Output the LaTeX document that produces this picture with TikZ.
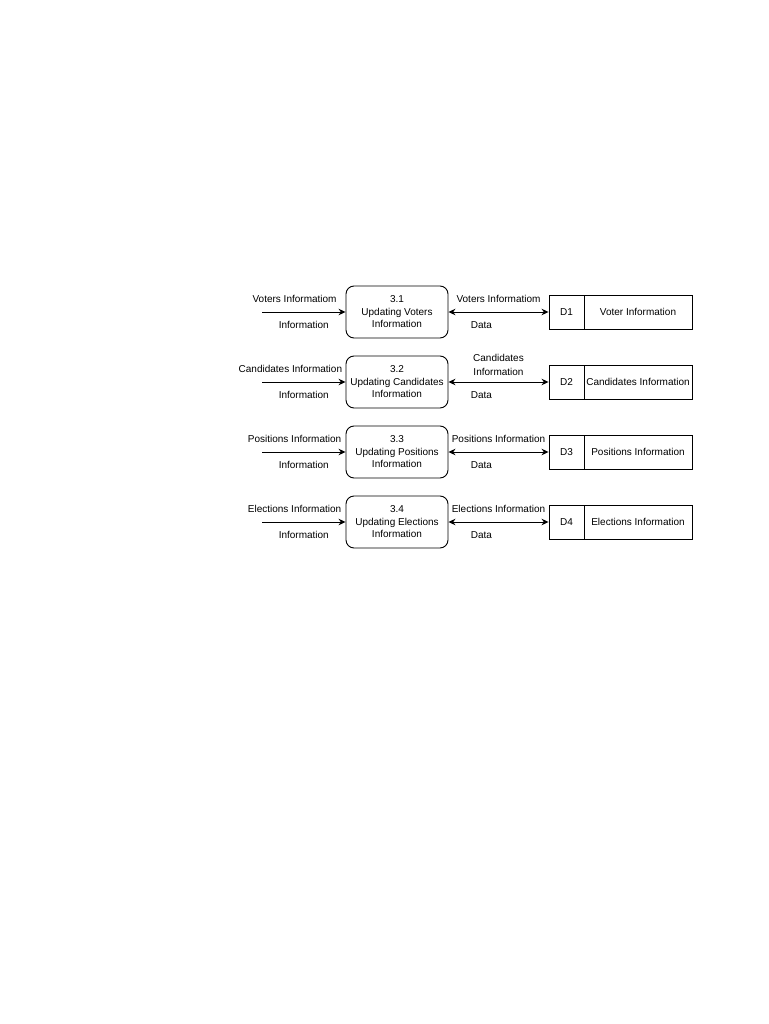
\documentclass[tikz,border=0pt]{standalone}
\usepackage{fontspec}
\setmainfont{Liberation Sans}
\usetikzlibrary{arrows.meta}
\begin{document}
\begin{tikzpicture}[x=1pt, y=-1pt, line width=0.9pt,
  proc/.style={draw, rounded corners=8pt, minimum width=102pt, minimum height=52pt, align=center, inner sep=0pt, font=\fontsize{10}{12.5}\selectfont},
  storeid/.style={draw, minimum width=35pt, minimum height=34pt, inner sep=0pt, font=\fontsize{10}{12}\selectfont},
  storename/.style={draw, minimum width=108pt, minimum height=34pt, inner sep=0pt, font=\fontsize{10}{12}\selectfont},
  lbl/.style={inner sep=0pt, text height=7pt, text depth=2pt, font=\fontsize{10}{12}\selectfont},
  lbltwo/.style={inner sep=0pt, align=center, font=\fontsize{10}{13.5}\selectfont},
  flow/.style={-{Stealth[length=7pt,width=6.5pt]}},
  dflow/.style={{Stealth[length=7pt,width=6.5pt]}-{Stealth[length=7pt,width=6.5pt]}}]
\useasboundingbox (0,0) rectangle (768,1024);

% 3.1 voters
\node[proc] (p1) at (397,312) {3.1\\Updating Voters\\Information};
\node[storeid] (d1) at (566.5,312) {D1};
\node[storename] (s1) at (638,312) {Voter Information};
\coordinate (in1) at (262,312);
\draw[flow] (in1) -- node[lbl, pos=.39, yshift=12.5]{Voters Informatiom} node[lbl, pos=.5, yshift=-13.5]{Information} (p1);
\draw[dflow] (p1) -- node[lbl, pos=.5, yshift=12.5]{Voters Informatiom} node[lbl, pos=.33, yshift=-13.5]{Data} (d1);

% 3.2 candidates
\node[proc] (p2) at (397,382) {3.2\\Updating Candidates\\Information};
\node[storeid] (d2) at (566.5,382) {D2};
\node[storename] (s2) at (638,382) {Candidates Information};
\coordinate (in2) at (262,382);
\draw[flow] (in2) -- node[lbl, pos=.34, yshift=12.5]{Candidates Information} node[lbl, pos=.5, yshift=-13.5]{Information} (p2);
\draw[dflow] (p2) -- node[lbltwo, pos=.5, yshift=17]{Candidates\\Information} node[lbl, pos=.33, yshift=-13.5]{Data} (d2);

% 3.3 positions
\node[proc] (p3) at (397,452) {3.3\\Updating Positions\\Information};
\node[storeid] (d3) at (566.5,452) {D3};
\node[storename] (s3) at (638,452) {Positions Information};
\coordinate (in3) at (262,452);
\draw[flow] (in3) -- node[lbl, pos=.39, yshift=12.5]{Positions Information} node[lbl, pos=.5, yshift=-13.5]{Information} (p3);
\draw[dflow] (p3) -- node[lbl, pos=.5, yshift=12.5]{Positions Information} node[lbl, pos=.33, yshift=-13.5]{Data} (d3);

% 3.4 elections
\node[proc] (p4) at (397,522) {3.4\\Updating Elections\\Information};
\node[storeid] (d4) at (566.5,522) {D4};
\node[storename] (s4) at (638,522) {Elections Information};
\coordinate (in4) at (262,522);
\draw[flow] (in4) -- node[lbl, pos=.39, yshift=12.5]{Elections Information} node[lbl, pos=.5, yshift=-13.5]{Information} (p4);
\draw[dflow] (p4) -- node[lbl, pos=.5, yshift=12.5]{Elections Information} node[lbl, pos=.33, yshift=-13.5]{Data} (d4);
\end{tikzpicture}
\end{document}
